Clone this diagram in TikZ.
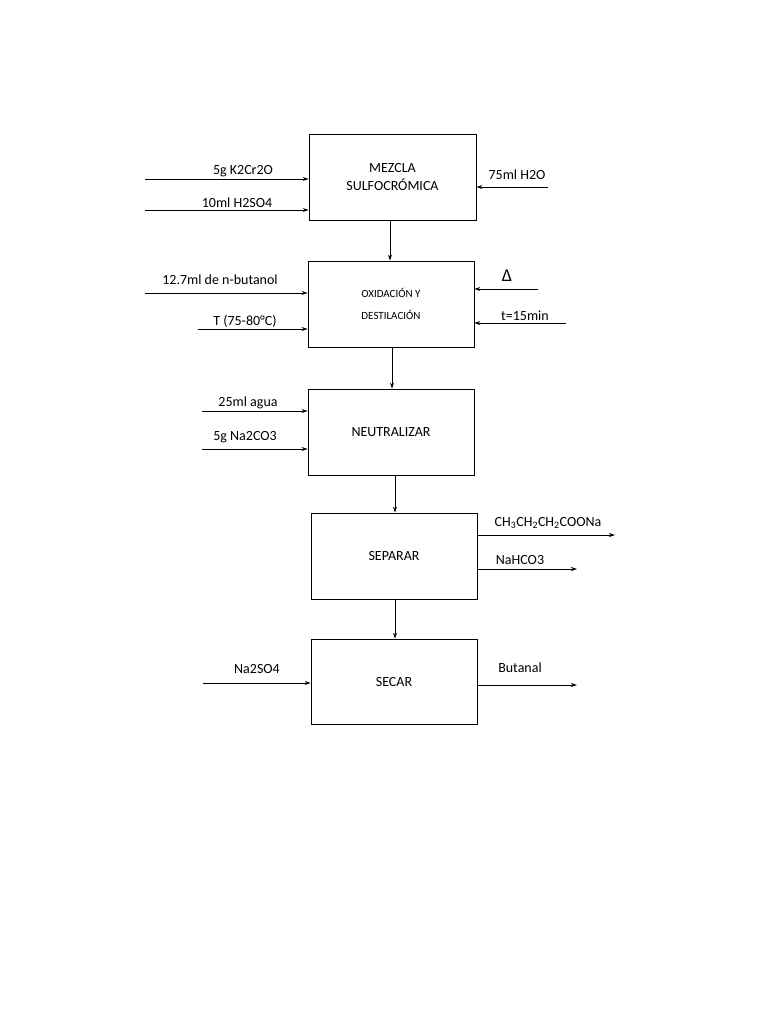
\documentclass[tikz,border=0pt]{standalone}
\usepackage{fontspec}
\setmainfont{Carlito}
\usetikzlibrary{arrows.meta}
\begin{document}
\begin{tikzpicture}[x=1pt,y=-1pt,
  box/.style={draw,line width=0.8pt,align=center,font=\fontsize{14}{18}\selectfont},
  lab/.style={font=\fontsize{14}{16}\selectfont,inner sep=0pt},
  arr/.style={-{Stealth[length=6pt,width=4pt]},line width=0.8pt}]
\useasboundingbox (0,0) rectangle (768,1024);
\fill[white] (0,0) rectangle (768,1024);
\node[box,minimum width=167pt,minimum height=86pt] (b1) at (392.5,177) {MEZCLA\\SULFOCRÓMICA};
\node[box,minimum width=166pt,minimum height=86pt,font=\fontsize{11}{22}\selectfont] (b2) at (391,304) {OXIDACIÓN Y\\DESTILACIÓN};
\node[box,minimum width=166pt,minimum height=86pt] (b3) at (391,432) {NEUTRALIZAR};
\node[box,minimum width=166pt,minimum height=86pt] (b4) at (394,556) {SEPARAR};
\node[box,minimum width=166pt,minimum height=85pt] (b5) at (394,681.5) {SECAR};
\draw[arr] (b1.south -| 390,0) -- (b2.north -| 390,0);
\draw[arr] (b2.south -| 392,0) -- (b3.north -| 392,0);
\draw[arr] (b3.south -| 395,0) -- (b4.north -| 395,0);
\draw[arr] (b4.south -| 395,0) -- (b5.north -| 395,0);
\coordinate (a1) at (145,179); \draw[arr] (a1) -- (a1 -| b1.west);
\node[lab] (l1) at (243,171) {5g K2Cr2O};
\coordinate (a2) at (145,210); \draw[arr] (a2) -- (a2 -| b1.west);
\node[lab] (l2) at (237,203) {10ml H2SO4};
\coordinate (a3) at (548,187); \draw[arr] (a3) -- (a3 -| b1.east);
\node[lab] (l3) at (517,175) {75ml H2O};
\coordinate (a4) at (145,293); \draw[arr] (a4) -- (a4 -| b2.west);
\node[lab] (l4) at (220,280) {12.7ml de n-butanol};
\coordinate (a5) at (198,329); \draw[arr] (a5) -- (a5 -| b2.west);
\node[lab] (l5) at (245,321) {T (75-80°C)};
\coordinate (a6) at (538,289); \draw[arr] (a6) -- (a6 -| b2.east);
\node[lab,font=\fontsize{18}{18}\selectfont] (l6) at (507,276) {Δ};
\coordinate (a7) at (566,323); \draw[arr] (a7) -- (a7 -| b2.east);
\node[lab] (l7) at (525,316) {t=15min};
\coordinate (a8) at (202,411); \draw[arr] (a8) -- (a8 -| b3.west);
\node[lab] (l8) at (248,403) {25ml agua};
\coordinate (a9) at (202,449); \draw[arr] (a9) -- (a9 -| b3.west);
\node[lab] (l9) at (245,437) {5g Na2CO3};
\coordinate (c1) at (615,535); \draw[arr] (c1 -| b4.east) -- (c1);
\node[lab] (l10) at (548,523) {CH\textsubscript{3}CH\textsubscript{2}CH\textsubscript{2}COONa};
\coordinate (c2) at (577,569); \draw[arr] (c2 -| b4.east) -- (c2);
\node[lab] (l11) at (520,560) {NaHCO3};
\coordinate (a10) at (203,683); \draw[arr] (a10) -- (a10 -| b5.west);
\node[lab] (l12) at (257,669) {Na2SO4};
\coordinate (c3) at (577,685); \draw[arr] (c3 -| b5.east) -- (c3);
\node[lab] (l13) at (520,668) {Butanal};
\end{tikzpicture}
\end{document}
